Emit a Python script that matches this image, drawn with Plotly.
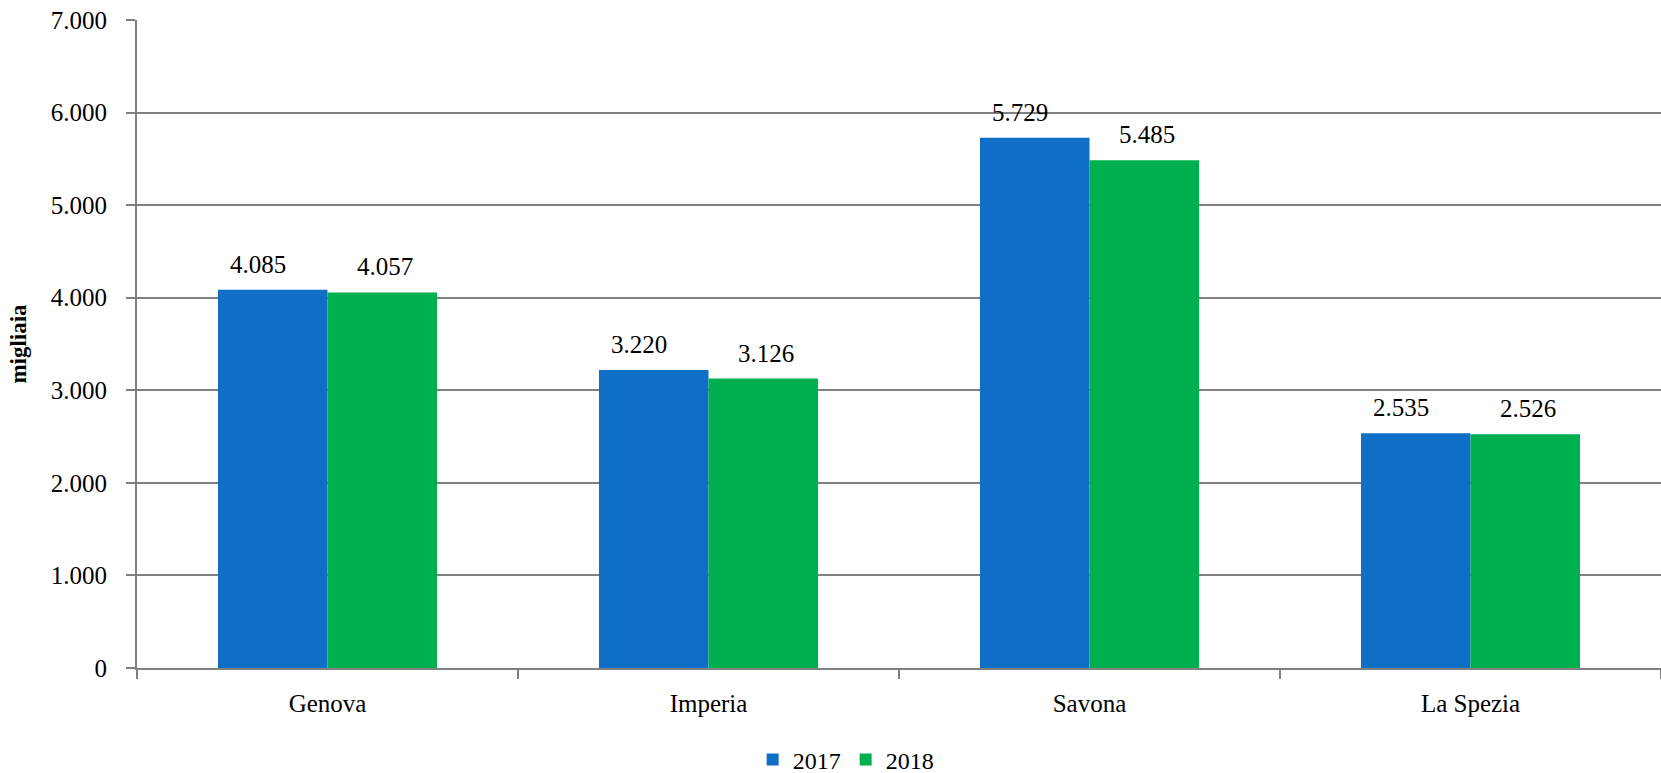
import plotly.graph_objects as go

categories = ["Genova", "Imperia", "Savona", "La Spezia"]
years = ["2017", "2018"]
values_2017 = [4085, 3220, 5729, 2535]
values_2018 = [4057, 3126, 5485, 2526]
colors = ["#0F6FC6", "#00B050"]
y_ticks = [0, 1000, 2000, 3000, 4000, 5000, 6000, 7000]

FONT = "Liberation Serif"
BARGAP = 0.425
L, R, T, B = 137, 0, 20, 105
W, H = 1661, 773

fig = go.Figure()
for name, vals, col in zip(years, [values_2017, values_2018], colors):
    fig.add_trace(go.Bar(
        x=categories, y=vals, name=name, marker=dict(color=col, line=dict(width=0)),
    ))

# data labels as annotations, offset to sit over each bar of the group
plot_w = W - L - R
bar_px = plot_w / len(categories) * (1 - BARGAP) / 2
label_shift = [-bar_px / 2 - 15, bar_px / 2 + 3]
for vals, sh in zip([values_2017, values_2018], label_shift):
    for c, v in zip(categories, vals):
        fig.add_annotation(
            x=c, y=v, xref="x", yref="y", text=f"{v:,}".replace(",", "."),
            showarrow=False, xshift=sh, yshift=10, yanchor="bottom", xanchor="center",
            font=dict(family=FONT, size=25, color="#000000"),
        )

fig.update_layout(
    width=W, height=H,
    barmode="group", bargap=BARGAP, bargroupgap=0,
    separators=",.",
    paper_bgcolor="#ffffff", plot_bgcolor="#ffffff",
    margin=dict(l=L, r=R, t=T, b=B, autoexpand=False),
    font=dict(family=FONT, size=24, color="#000000"),
    showlegend=True,
    legend=dict(orientation="h", x=0.465, xanchor="center", y=-0.142, yanchor="middle",
                font=dict(family=FONT, size=24), itemwidth=30, traceorder="normal"),
    xaxis=dict(
        showgrid=False, showline=True, linecolor="#808080", linewidth=2,
        ticks="outside", ticklen=9, tickcolor="#808080", tickwidth=1.5,
        tickson="boundaries", ticklabelstandoff=12, automargin=False,
        tickfont=dict(family=FONT, size=25),
    ),
    yaxis=dict(
        range=[0, 7000], tickvals=y_ticks, tickformat=",",
        showgrid=True, gridcolor="#808080", gridwidth=1.5,
        showline=True, linecolor="#808080", linewidth=2,
        ticks="outside", ticklen=9, tickcolor="#808080", tickwidth=1.5,
        ticklabelstandoff=14, zeroline=False, automargin=False,
        tickfont=dict(family=FONT, size=25),
        title=dict(text="<b>migliaia</b>", font=dict(family=FONT, size=23), standoff=18),
    ),
)

fig.write_html("out.html", config={"displayModeBar": False},
               post_script="document.body.style.margin='0';document.body.style.overflow='hidden';")
